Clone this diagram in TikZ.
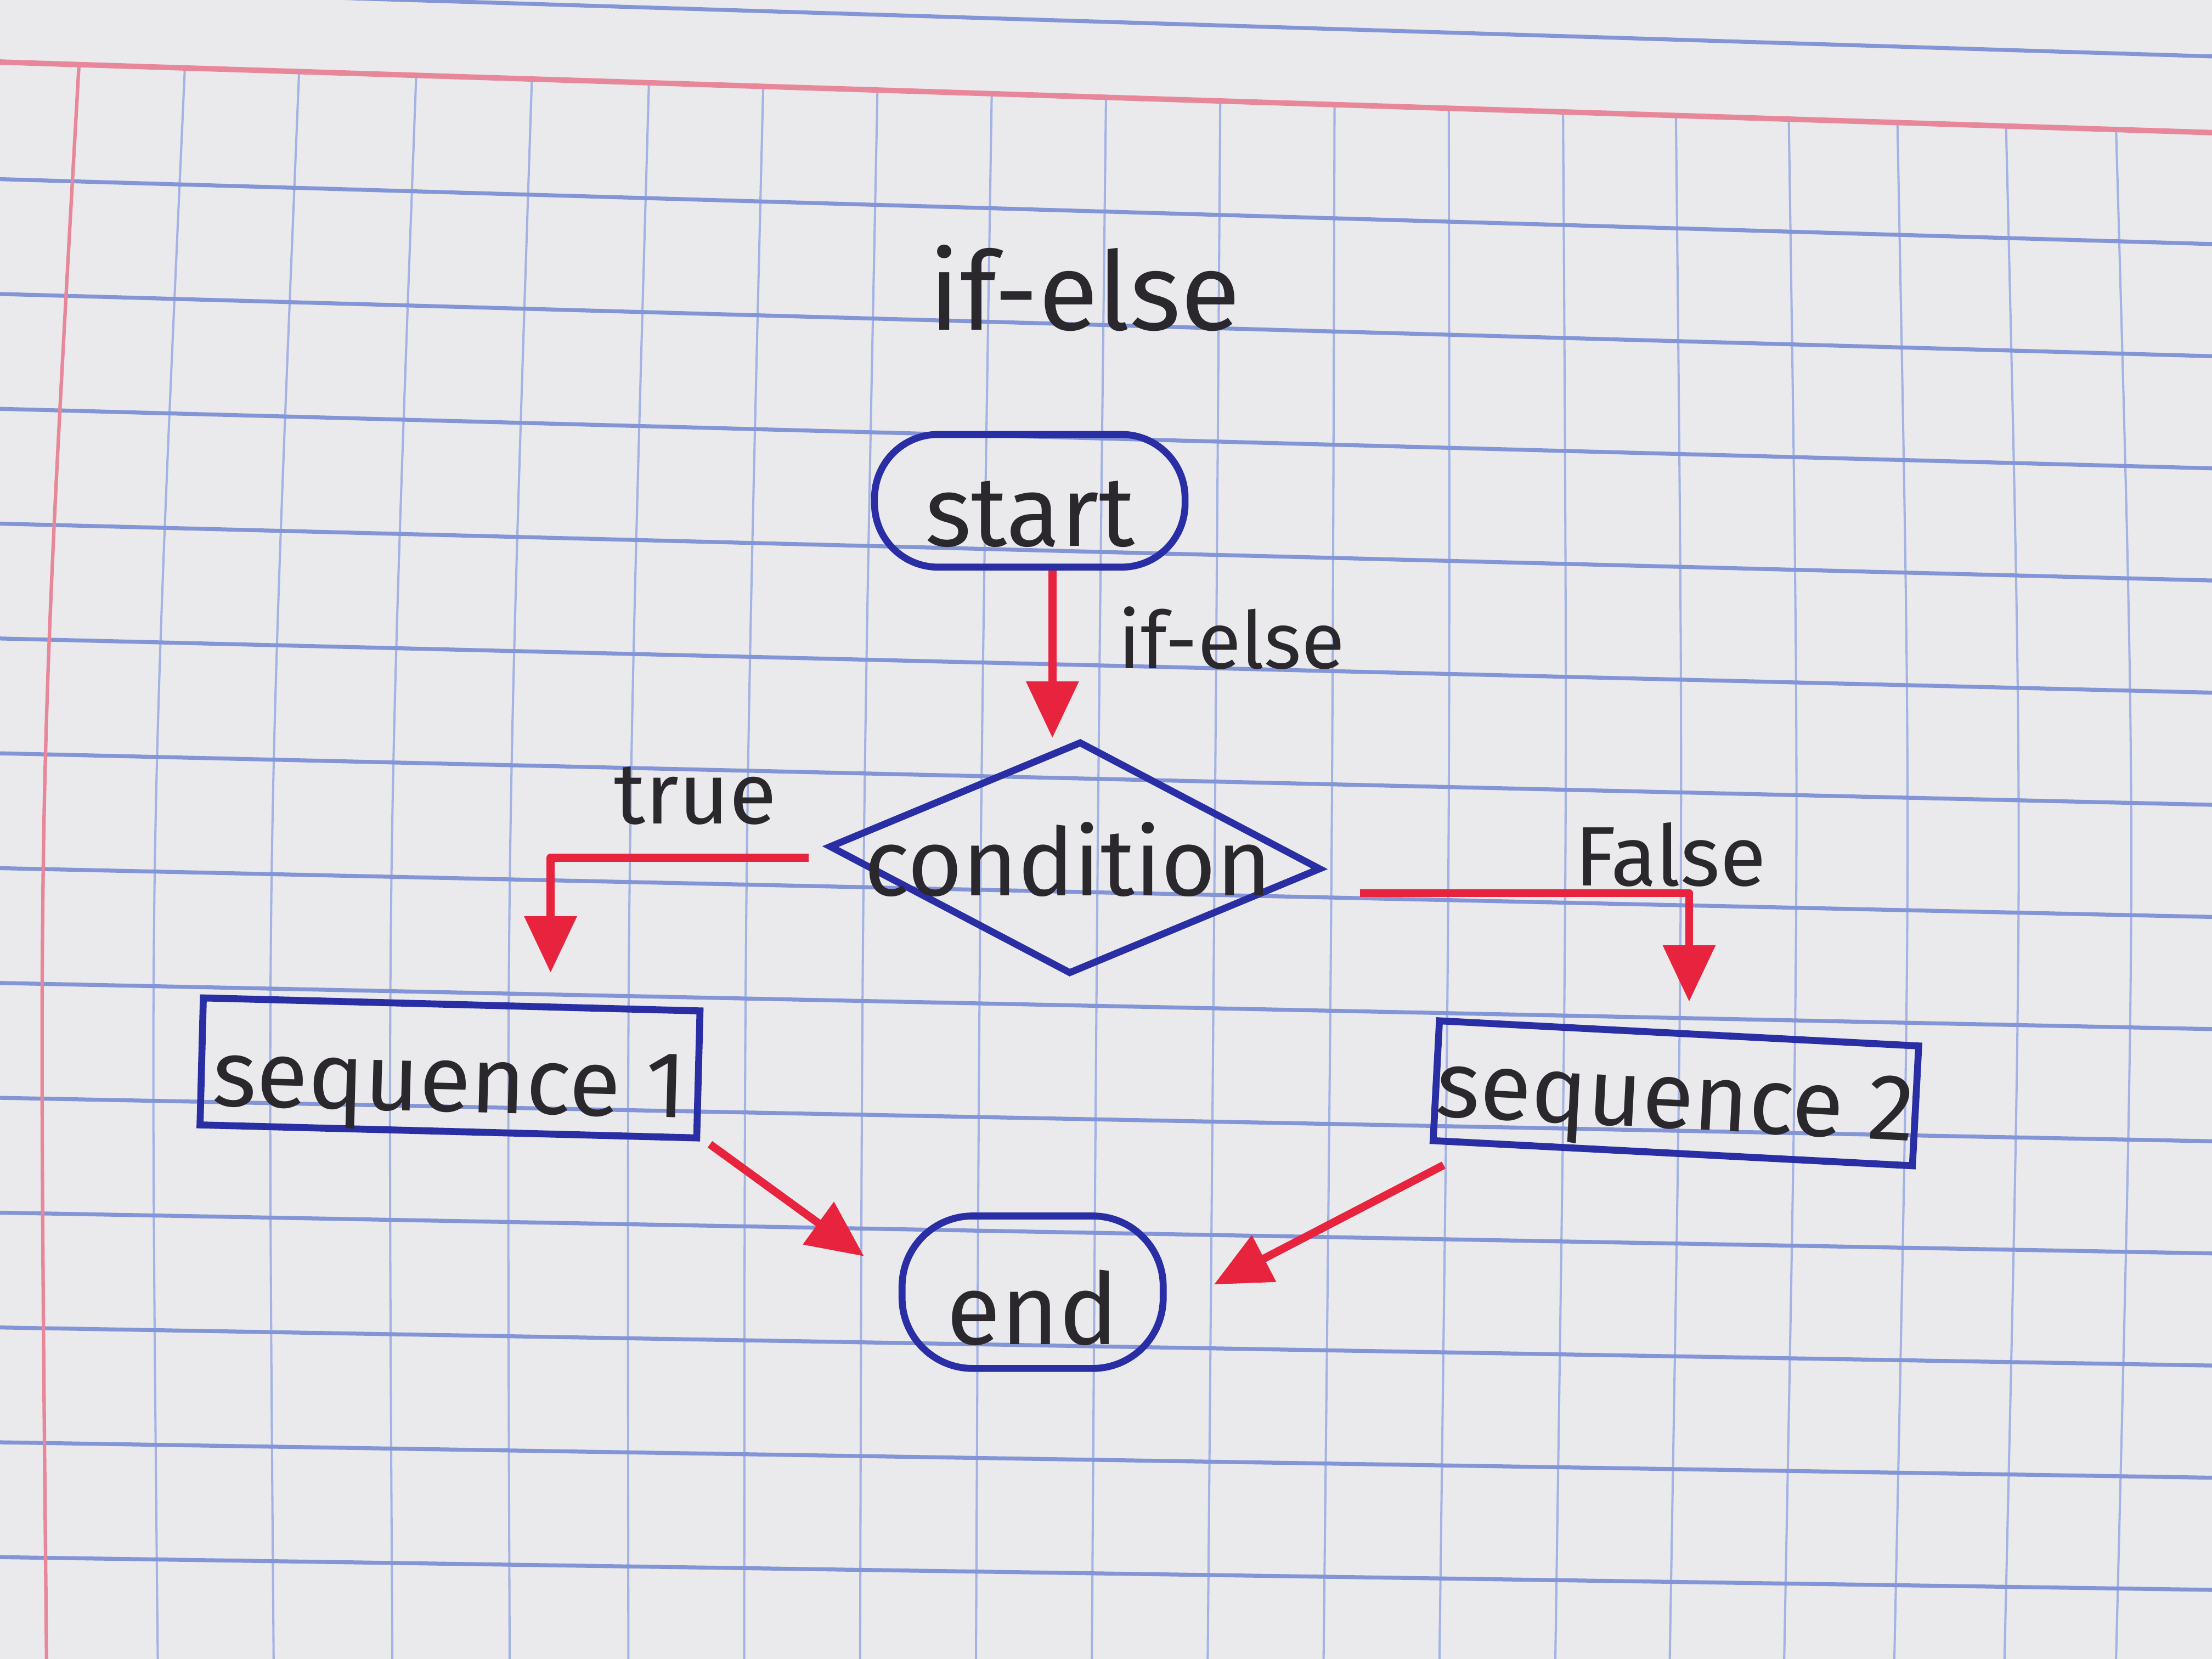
\documentclass[tikz,border=0pt]{standalone}
\usepackage{fontspec}
\setmainfont{Fira Sans}
\usetikzlibrary{arrows.meta,shapes.geometric,calc}
\definecolor{paper}{HTML}{EAEAED}
\definecolor{gridv}{HTML}{A2B3E4}
\definecolor{gridh}{HTML}{8395D6}
\definecolor{marg}{HTML}{E8879A}
\definecolor{ink}{HTML}{2A2EA5}
\definecolor{redink}{HTML}{E8233D}
\definecolor{pen}{HTML}{2B282D}
\begin{document}
\begin{tikzpicture}[x=0.01cm,y=-0.01cm,
  txt/.style={text=pen, inner sep=0pt, font=\fontsize{19}{23}\selectfont},
  terminal/.style={txt, draw=ink, line width=1.4pt, rounded corners=0.45cm,
    minimum width=2.2cm, minimum height=0.94cm, text depth=0pt},
  process/.style={txt, draw=ink, line width=1.4pt,
    minimum width=3.52cm, minimum height=0.9cm, text depth=0pt},
  decision/.style={diamond, draw=ink, line width=1.4pt, inner sep=0pt,
    minimum width=3.49cm, minimum height=1.65cm},
  arr/.style={draw=redink, line width=1.6pt, line join=round,
    -{Triangle[width=0.36cm,length=0.4cm]}},
  vline/.style={draw=gridv, line width=0.45pt},
  hline/.style={draw=gridh, line width=0.8pt}
]
\useasboundingbox (0,0) rectangle (1568,1176);
\fill[paper] (0,0) rectangle (1568,1176);
% graph paper
\foreach \xt in {131,212,295,377,460,541,622,703,784,865,946,1027,1108,1188,1268,1345,1422,1500}{
  \pgfmathsetmacro{\yt}{45+0.031*\xt}
  \pgfmathsetmacro{\xb}{\xt-21*(1-\xt/1500)}
  \pgfmathsetmacro{\bul}{-11.5+(21/1290)*(\xt-131)}
  \pgfmathsetmacro{\xm}{0.5*\xt+0.5*\xb+\bul}
  \pgfmathsetmacro{\xc}{(\xm-0.125*\xt-0.125*\xb)/0.75}
  \draw[vline] (\xt,\yt) .. controls (\xc,600) .. (\xb,1176);
}
\draw[hline] (0,-9) -- (1568,40);
\foreach \k in {0,...,12}{
  \pgfmathsetmacro{\yl}{127+81.4*\k}
  \pgfmathsetmacro{\yr}{\yl+46-1.9*\k}
  \draw[hline] (0,\yl) -- (1568,\yr);
}
\draw[marg, line width=1.1pt] (0,44) -- (1568,94);
\draw[marg, line width=0.7pt] (56,45.5) .. controls (27,560) .. (33,1176);

% title
\node[txt, anchor=base, font=\fontsize{22}{26}\selectfont] (title) at (769,234) {if-else};

% nodes
\node[terminal, text height=0.64cm, font=\fontsize{20}{24}\selectfont] (start) at (730,355) {start};
\node[decision, rotate=-2.6] (cond) at (762,608) {};
\node[txt, anchor=base] (condtxt) at (757,635) {condition};
\node[process, text height=0.62cm, rotate=-1.5] (seq1) at (319,757) {sequence 1};
\node[process, text height=0.5cm, minimum width=3.4cm, minimum height=0.85cm, rotate=-3] (seq2) at (1188,775) {sequence 2};
\node[terminal, text height=0.74cm, minimum width=1.85cm, minimum height=1.08cm, rounded corners=0.5cm, font=\fontsize{20}{24}\selectfont] (end) at (732,916) {end};

% labels
\node[txt, anchor=base west, font=\fontsize{16}{20}\selectfont] (lblif) at (792,474) {if-else};
\node[txt, anchor=base, font=\fontsize{17.5}{21}\selectfont] (lbltrue) at (493,584) {true};
\node[txt, anchor=base, font=\fontsize{17}{20}\selectfont] (lblfalse) at (1184,628) {False};

% connectors
\draw[arr] ([xshift=0.16cm]start.south) -- ([xshift=0.16cm]start.south |- cond.north);
\draw[arr] ([xshift=-0.12cm,yshift=-0.08cm]cond.west) -| ([xshift=0.7cm,yshift=0.2cm]seq1.north);
\draw[arr] ([xshift=0.25cm,yshift=-0.17cm]cond.east) -| ([xshift=0.07cm,yshift=0.2cm]seq2.north);
\draw[arr] ([xshift=0.07cm,yshift=-0.02cm]seq1.south east) -- ([xshift=-0.245cm,yshift=-0.31cm]end.north west);
\draw[arr] ([xshift=0.1cm,yshift=-0.15cm]seq2.south west) -- ([xshift=0.335cm,yshift=-0.51cm]end.north east);
\end{tikzpicture}
\end{document}
